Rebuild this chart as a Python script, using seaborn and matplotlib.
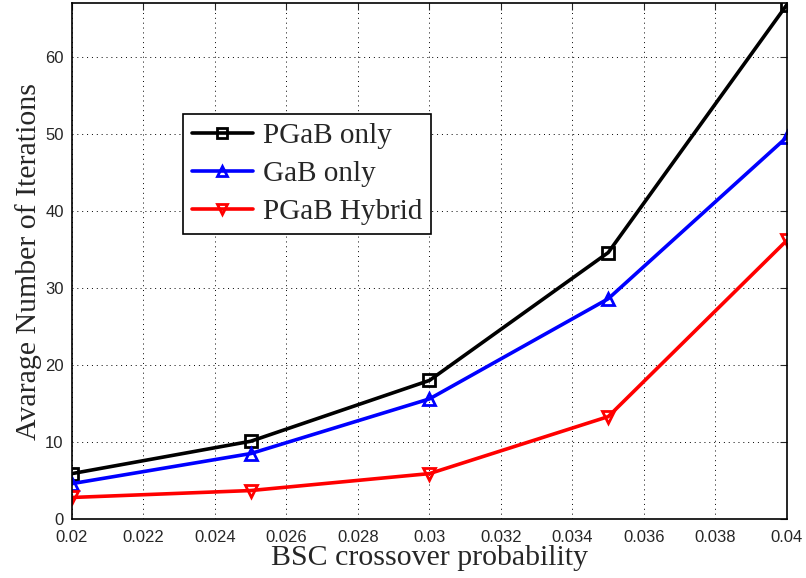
import pandas as pd
import seaborn as sns
import matplotlib.pyplot as plt
from matplotlib.ticker import MultipleLocator

# Data
p = [0.02, 0.025, 0.03, 0.035, 0.04]
pgab_only = [5.9, 10.1, 18.0, 34.6, 66.8]
gab_only = [4.6, 8.5, 15.6, 28.6, 49.6]
pgab_hybrid = [2.8, 3.7, 5.9, 13.3, 36.2]

series = ["PGaB only", "GaB only", "PGaB Hybrid"]
colors = {"PGaB only": "black", "GaB only": "blue", "PGaB Hybrid": "red"}

df = pd.DataFrame({
    "p": p * 3,
    "iters": pgab_only + gab_only + pgab_hybrid,
    "algo": [s for s in series for _ in p],
})

sns.set_style("white")
plt.rcParams["font.family"] = ["Liberation Sans", "DejaVu Sans"]

fig = plt.figure(figsize=(8.06, 5.78), dpi=100)
ax = fig.add_axes([0.0893, 0.102, 0.8871, 0.8928])

sns.lineplot(
    data=df, x="p", y="iters", hue="algo", style="algo",
    palette=colors,
    markers={"PGaB only": "s", "GaB only": "^", "PGaB Hybrid": "v"},
    dashes=False, linewidth=2.6, markersize=9,
    ax=ax,
)
# open markers with coloured edges
for line in ax.lines:
    c = line.get_color()
    line.set_markeredgecolor(c)
    line.set_markerfacecolor("none")
    line.set_markeredgewidth(2)

ax.set_xlim(0.02, 0.04)
ax.set_ylim(0, 67)
ax.set_xticks([0.02, 0.022, 0.024, 0.026, 0.028, 0.03, 0.032, 0.034, 0.036, 0.038, 0.04])
ax.set_xticklabels(["0.02", "0.022", "0.024", "0.026", "0.028", "0.03",
                    "0.032", "0.034", "0.036", "0.038", "0.04"])
ax.yaxis.set_major_locator(MultipleLocator(10))
ax.grid(True, color="black", linestyle=(0, (1, 4)), linewidth=0.7)
ax.tick_params(direction="in", top=True, right=True, labelsize=12, length=5)
ax.tick_params(axis="x", pad=8)
ax.tick_params(axis="y", pad=6)
for s in ax.spines.values():
    s.set_visible(True)
    s.set_color("black")
    s.set_linewidth(1.2)

ax.set_xlabel("BSC crossover probability", family=["Liberation Serif"], fontsize=21.5, labelpad=0)
ax.set_ylabel("Avarage Number of Iterations", family=["Liberation Serif"], fontsize=21.5, labelpad=2)

leg = ax.legend(
    loc="upper left", bbox_to_anchor=(0.155, 0.785), borderaxespad=0,
    prop={"family": "Liberation Serif", "size": 21},
    frameon=True, fancybox=False, edgecolor="black", framealpha=1,
    handlelength=2.1, borderpad=0.3, labelspacing=0.4, handletextpad=0.35,
)
leg.get_frame().set_linewidth(1.2)
for h in leg.legend_handles:
    c = h.get_color()
    h.set_markeredgecolor(c)
    h.set_markerfacecolor("none")
    h.set_markeredgewidth(2)
    h.set_markersize(7)

fig.savefig("out.png", dpi=100)
